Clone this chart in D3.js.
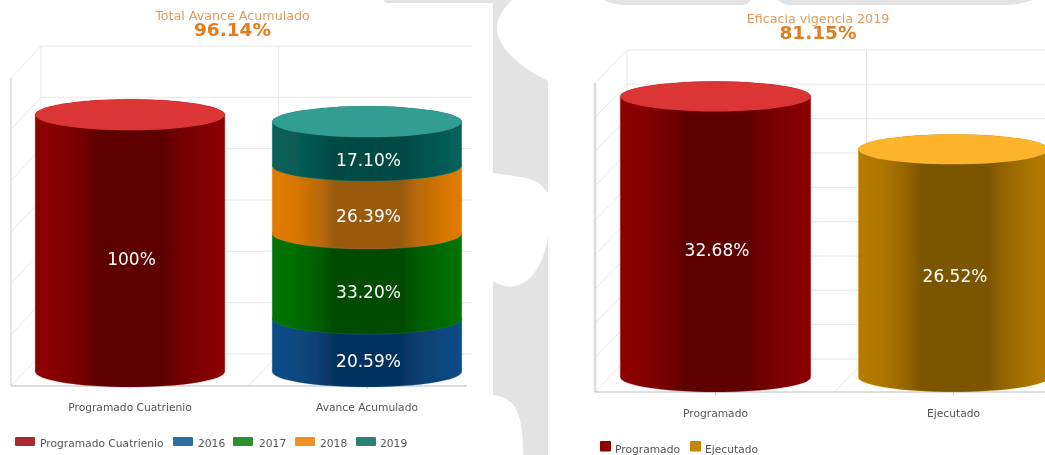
<!DOCTYPE html>
<html><head><meta charset="utf-8">
<style>html,body{margin:0;padding:0;background:#fff;overflow:hidden}svg{display:block}
text{font-family:"DejaVu Sans",sans-serif}</style>
<script src="https://cdnjs.cloudflare.com/ajax/libs/d3/7.8.5/d3.min.js"></script>
</head><body><svg id="c" width="1045" height="455"></svg>
<script>
// data
const leftTitle = "Total Avance Acumulado", leftBig = "96.14%";
const leftCategories = ["Programado Cuatrienio", "Avance Acumulado"];
const leftSeriesNames = ["Programado Cuatrienio", "2016", "2017", "2018", "2019"];
const leftProgramado = [100, 0];
const leftAvance = [20.59, 33.20, 26.39, 17.10];
const leftTicks = [0, 20, 40, 60, 80, 100, 120];
const rightTitle = "Eficacia vigencia 2019", rightBig = "81.15%";
const rightCategories = ["Programado", "Ejecutado"];
const rightValues = [32.68, 26.52];
const rightTicks = [0, 4, 8, 12, 16, 20, 24, 28, 32, 36];
const redStyle  = {edge:"#8c0000", mid:"#5f0000", top:"#db3434", stroke:"#a51c1c", legend:"#a92c33"};
const blueStyle = {edge:"#0b4c86", mid:"#06335f", top:"#2d6fa5", stroke:"#2a6aa0", legend:"#2f6ea5"};
const greenStyle= {edge:"#007300", mid:"#004b00", top:"#2f9130", stroke:"#2e8b3a", legend:"#2f8f30"};
const orangeStyle={edge:"#e27c00", mid:"#9a5a0e", top:"#ef9327", stroke:"#d68a30", legend:"#ee9228"};
const tealStyle = {edge:"#075f5a", mid:"#034845", top:"#319d92", stroke:"#319d92", legend:"#2f8074"};
const goldStyle = {edge:"#b57c00", mid:"#7c5400", top:"#fdb42a", stroke:"#e8a820", legend:"#c48600"};
const leftStyles = [redStyle, blueStyle, greenStyle, orangeStyle, tealStyle];

const svg = d3.select("#c");
const defs = svg.append("defs");
defs.append("filter").attr("id","soft").attr("x","-5%").attr("y","-5%").attr("width","110%").attr("height","110%")
  .append("feGaussianBlur").attr("stdDeviation",0.5);

// grey page background shapes
const bg = svg.append("g").attr("fill","#e3e3e3");
bg.append("path").attr("d","M493,0H512C503,9 497,18 497,28C497,40 505,51 518,62C528,70 538,76 548,81V193C544,188 541,184 535,181C525,177 507,175 493,173Z");
bg.append("path").attr("d","M548,235C546,250 542,264 532,276C524,285 513,288 505,286C500,285 496,283 493,281V395C503,396 511,400 516,409C521,419 523,432 523,455H548Z");
bg.append("path").attr("d","M383,0H493V3H386Z");
bg.append("path").attr("d","M604,0C610,3 618,5 628,5H742C746,5 749,3 751,0Z");
bg.append("path").attr("d","M778,0C781,3 785,5 790,5H1005C1016,5 1024,3 1033,0Z");

function chart(o){
  const g = svg.append("g").attr("filter","url(#soft)");
  const y = d3.scaleLinear().domain(o.domain).range([o.floor, o.ceil]);
  const x = d3.scaleBand().domain(o.categories).range(o.xRange).paddingInner(0.2).paddingOuter(0.1);
  const [dx, dy] = o.depth;
  const gc = "#e8e8e8";
  const grid = g.append("g").attr("stroke",gc).attr("fill","none");
  o.ticks.forEach(t=>{
    grid.append("line").attr("x1",o.left+dx).attr("x2",o.right+dx-(o.trim||0)).attr("y1",y(t)+dy).attr("y2",y(t)+dy);
    grid.append("line").attr("x1",o.left).attr("x2",o.left+dx).attr("y1",y(t)).attr("y2",y(t)+dy);
  });
  const top = y(o.domain[1]);
  grid.append("line").attr("x1",o.left).attr("x2",o.left).attr("y1",top).attr("y2",o.floor).attr("stroke","#dcdcdc").attr("stroke-width",o.wall);
  grid.append("line").attr("x1",o.left+dx).attr("x2",o.left+dx).attr("y1",top+dy).attr("y2",o.floor+dy);
  const mid = x(o.categories[1]) - x.step()*0.1;
  grid.append("line").attr("x1",mid+dx).attr("x2",mid+dx).attr("y1",top+dy).attr("y2",o.floor+dy);
  grid.append("line").attr("x1",mid).attr("x2",mid+dx).attr("y1",o.floor).attr("y2",o.floor+dy);

  // axis line and ticks sit behind the cylinders
  const axis = d3.axisBottom(x).tickSize(3).tickSizeOuter(0);
  const ag = g.append("g").attr("transform",`translate(0,${o.floor})`).call(axis);
  ag.select(".domain").remove();
  ag.selectAll("line").attr("stroke","#c0c8d0");
  ag.selectAll("text").attr("font-size",10.7).attr("fill","#555").attr("y",17).attr("dy",".71em")
    .style("font-family",'"DejaVu Sans",sans-serif');
  g.append("line").attr("x1",o.left).attr("x2",o.right).attr("y1",o.floor).attr("y2",o.floor).attr("stroke","#b8bcc2");

  // cylinders
  const rx = x.bandwidth()/2, ry = o.ry;
  function cylinder(cat, from, to, st, isTop, id){
    const cx = x(cat)+rx, base = v=>y(v)-o.lift;
    const gid = "grad"+id;
    const lg = defs.append("linearGradient").attr("id",gid);
    const mix = d3.interpolateRgb(st.edge,st.mid);
    [[0,st.edge],[0.12,mix(0.12)],[0.26,mix(0.6)],[0.33,st.mid],[0.68,st.mid],[0.76,mix(0.6)],[0.92,mix(0.15)],[1,st.edge]]
      .forEach(s=>lg.append("stop").attr("offset",s[0]).attr("stop-color",s[1]));
    const p = d3.path();
    p.moveTo(cx-rx, base(to));
    p.lineTo(cx-rx, base(from));
    g.append("path")
      .attr("d", `${p.toString()}A${rx},${ry} 0 0 0 ${cx+rx},${base(from)}L${cx+rx},${base(to)}A${rx},${ry} 0 0 0 ${cx-rx},${base(to)}Z`)
      .attr("fill",`url(#${gid})`).attr("stroke",st.stroke).attr("stroke-width",0.5).attr("stroke-opacity",0.6);
    if(isTop) g.append("ellipse").attr("cx",cx).attr("cy",base(to)).attr("rx",rx).attr("ry",ry).attr("fill",st.top);
  }
  o.stacks.forEach((s,si)=>{
    let acc = 0;
    s.values.forEach((v,i)=>{
      cylinder(s.cat, acc, acc+v, s.styles[i], i===s.values.length-1, o.id+"_"+si+"_"+i);
      acc += v;
    });
  });
  o.stacks.forEach(s=>{
    let acc = 0;
    s.values.forEach((v,i)=>{
      g.append("text").attr("x",x(s.cat)+rx+1.5).attr("y",(y(acc)+y(acc+v))/2-o.lift+o.labelDrop+6)
        .attr("text-anchor","middle").attr("font-size",17).attr("fill","#fff").text(s.labels[i]);
      acc += v;
    });
  });

  // titles
  g.append("text").attr("x",o.titleX).attr("y",o.titleY).attr("text-anchor","middle").attr("font-size",12.7).attr("fill","#e39a5c").text(o.title);
  g.append("text").attr("x",o.titleX).attr("y",o.titleY+16).attr("text-anchor","middle").attr("font-size",18.5).attr("font-weight","bold").attr("fill","#e47c1e").text(o.big);

  // legend
  o.legend.forEach(l=>{
    g.append("rect").attr("x",l.x).attr("y",o.legendY).attr("width",l.w).attr("height",o.legendH).attr("rx",1).attr("fill",l.color);
    g.append("text").attr("x",l.tx).attr("y",o.legendBase).attr("font-size",10.7).attr("fill","#555").text(l.name);
  });
}

chart({
  id:"L", categories:leftCategories, domain:[0,120], ticks:leftTicks,
  floor:386, ceil:78, lift:14.5, ry:15.5, labelDrop:16, wall:1.5,
  xRange:[11.5,485.5], left:11, right:467, depth:[30,-32], trim:25,
  title:leftTitle, big:leftBig, titleX:232.5, titleY:20,
  stacks:[
    {cat:leftCategories[0], values:[leftProgramado[0]], styles:[redStyle], labels:["100%"]},
    {cat:leftCategories[1], values:leftAvance, styles:leftStyles.slice(1), labels:leftAvance.map(v=>v.toFixed(2)+"%")}
  ],
  legendY:437, legendH:9, legendBase:447,
  legend:leftSeriesNames.map((n,i)=>({name:n,color:leftStyles[i].legend,w:20,
    x:[15,173,233,295,356][i], tx:[40,198,259,320,380][i]}))
});
chart({
  id:"R", categories:rightCategories, domain:[0,36], ticks:rightTicks,
  floor:392, ceil:83, lift:15, ry:15, labelDrop:13, wall:2.5,
  xRange:[596.5,1072.5], left:595, right:1045, depth:[32,-33], trim:0,
  title:rightTitle, big:rightBig, titleX:818, titleY:23,
  stacks:[
    {cat:rightCategories[0], values:[rightValues[0]], styles:[redStyle], labels:[rightValues[0].toFixed(2)+"%"]},
    {cat:rightCategories[1], values:[rightValues[1]], styles:[goldStyle], labels:[rightValues[1].toFixed(2)+"%"]}
  ],
  legendY:441, legendH:10.5, legendBase:453,
  legend:[{name:rightCategories[0],color:"#8c0000",w:11,x:600,tx:615},{name:rightCategories[1],color:goldStyle.legend,w:11,x:690,tx:705}]
});
</script></body></html>
